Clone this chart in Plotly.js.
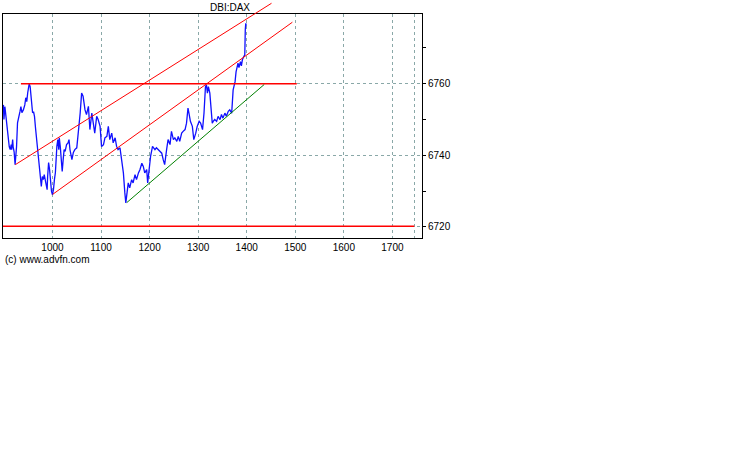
<!DOCTYPE html>
<html>
<head>
<meta charset="utf-8">
<script src="https://cdn.plot.ly/plotly-3.0.1.min.js"></script>
<style>
html,body{margin:0;padding:0;background:#fff;}
#chart{width:738px;height:475px;}
</style>
</head>
<body>
<div id="chart"></div>
<script>
// ---- data ----
const priceX = [899,900,902,904,907,909,911,913,915,916,918,919,921,923,926,928,930,933,935,937,940,943,945,947,949,951,952,954,956,958,959,961,963,965,968,970,972,974,975,977,979,981,983,985,987,989,990,992,994,996,998,1000,1002,1004,1006,
1009,1011,1013,1014,1016,1018,1020,1022,1024,1026,1029,1032,1034,1036,1040,1043,1046,1050,1053,1055,1057,
1060,1063,1067,1070,1074,1077,1081,1084,1087,1091,1094,1098,1101,1105,1108,1112,1115,1118,1122,1125,1129,1132,1135,1139,1142,1146,1149,1151,
1156,1159,1163,1166,1170,1173,1177,1180,1184,1187,1190,1194,1196,1199,1202,1206,1211,1214,1218,1221,1225,1228,1231,1235,1238,1242,1245,1249,1252,1256,1259,1262,1266,1269,1273,1276,1279,1281,1284,1288,1291,1295,1298,1302,1305,1309,1312,1315,1317,1319,1321,1324,1326,1329,1331,1334,1338,1341,1345,1348,1351,1355,1358,1362,1365,1369,1372,1376,1378,1380,1382,1384,1387,1389,1391,1394,1396,1397,1398,1399];
const priceY = [6754.1,6750.0,6753.6,6750.8,6747.2,6745.2,6742.4,6741.6,6743.0,6741.6,6744.4,6742.4,6741.0,6737.4,6742.4,6749.1,6750.8,6752.2,6753.6,6751.9,6752.7,6754.1,6756.1,6755.0,6757.5,6758.9,6760.0,6759.2,6756.4,6754.7,6751.9,6752.2,6750.8,6747.7,6743.5,6741.0,6738.0,6736.8,6734.1,6731.3,6734.1,6733.2,6734.6,6733.2,6731.8,6730.4,6734.1,6738.0,6736.0,6732.4,6729.9,6729.0,6730.4,6733.2,6735.2,
6742.5,6744.4,6741.6,6744.9,6742.5,6739.7,6735.5,6738.8,6741.6,6741.1,6743.0,6743.5,6744.4,6741.6,6738.8,6740.8,6741.6,6742.1,6745.3,6749.0,6751.8,
6757.4,6756.5,6752.7,6751.4,6753.7,6747.2,6751.8,6749.0,6746.2,6750.9,6750.0,6748.1,6742.5,6743.0,6744.9,6745.3,6748.1,6744.4,6746.2,6743.5,6744.9,6742.5,6741.6,6742.1,6738.8,6735.1,6729.5,6726.7,
6732.3,6730.9,6733.2,6732.3,6734.6,6733.2,6735.1,6736.0,6737.8,6736.9,6735.1,6736.0,6732.3,6736.9,6739.7,6742.5,6741.6,6742.1,6741.6,6741.1,6740.6,6738.8,6737.4,6741.6,6744.4,6743.0,6746.7,6744.4,6744.9,6743.9,6745.3,6743.9,6746.2,6746.7,6747.2,6749.0,6753.2,6751.8,6749.5,6748.1,6744.4,6746.2,6748.1,6749.5,6749.0,6747.2,6751.8,6759.2,6759.7,6757.4,6759.2,6757.4,6753.7,6749.0,6749.5,6750.0,6749.5,6750.9,6750.0,6751.4,6750.4,6751.8,6750.9,6752.3,6752.7,6751.8,6758.3,6760.6,6763.3,6765.0,6765.8,6764.5,6766.2,6765.0,6766.7,6767.6,6768.1,6775.1,6776.9,6776.2];

// drawn trend lines
const resistX = [935, 1503];       const resistY = [6760, 6760];
const supportX = [898, 1745];      const supportY = [6720.15, 6720.15];
const chanUpX = [923.5, 1451];     const chanUpY = [6737.4, 6782.5];
const chanMidX = [1000.4, 1494];   const chanMidY = [6729.1, 6777.2];
const chanLowX = [1153, 1436];     const chanLowY = [6726.8, 6759.8];

// axis ticks
const xTickVals = [1000,1100,1200,1300,1400,1500,1600,1700,1745];
const xTickText = ['1000','1100','1200','1300','1400','1500','1600','1700',''];
const yTickVals = [6720,6740,6760];
const yTickText = ['6720','6740','6760'];

const xRange = [898.1, 1760.9];
const yRange = [6716.9, 6779.5];

// ---- layout geometry ----
const W = 738, H = 475;
const frameL = 3, frameR = 422, frameT = 14, frameB = 238;
const plotH = frameB;                 // plot area spans 0..frameB (margin top 0)
const mainTop = (frameB - frameT) / plotH;
const y2Range = [yRange[0], yRange[0] + (yRange[1] - yRange[0]) / mainTop];

const font = {family: 'Liberation Sans, Arial, sans-serif', size: 10, color: '#000'};
const gridCol = '#8aa8a8';

const traces = [
  {x: priceX, y: priceY, xaxis: 'x', yaxis: 'y', mode: 'lines', line: {color: '#1010ff', width: 1.3}, hoverinfo: 'skip'},
  {x: resistX, y: resistY, xaxis: 'x', yaxis: 'y', mode: 'lines', line: {color: '#ff0000', width: 1.6}, hoverinfo: 'skip'},
  {x: supportX, y: supportY, xaxis: 'x', yaxis: 'y', mode: 'lines', line: {color: '#ff0000', width: 1.5}, hoverinfo: 'skip'},
  {x: chanUpX, y: chanUpY, xaxis: 'x2', yaxis: 'y2', mode: 'lines', line: {color: '#ff0000', width: 1}, hoverinfo: 'skip'},
  {x: chanMidX, y: chanMidY, xaxis: 'x2', yaxis: 'y2', mode: 'lines', line: {color: '#ff0000', width: 1}, hoverinfo: 'skip'},
  {x: chanLowX, y: chanLowY, xaxis: 'x2', yaxis: 'y2', mode: 'lines', line: {color: '#008000', width: 1}, hoverinfo: 'skip'}
];

const hidden = {visible: false, showgrid: false, zeroline: false, fixedrange: true};

const layout = {
  width: W, height: H,
  margin: {l: frameL, r: W - frameR, t: 0, b: H - frameB, pad: 0},
  paper_bgcolor: '#fff',
  plot_bgcolor: 'rgba(0,0,0,0)',
  showlegend: false,
  font: font,
  title: {text: 'DBI:DAX', font: {family: font.family, size: 10, color: '#000'},
          x: 230 / W, xref: 'container', xanchor: 'center',
          y: 1 - 7.5 / H, yref: 'container', yanchor: 'middle'},
  xaxis: {
    domain: [0, 1], range: xRange, fixedrange: true,
    tickmode: 'array', tickvals: xTickVals, ticktext: xTickText,
    ticks: '', showline: true, linecolor: '#000', linewidth: 1, mirror: true,
    showgrid: true, gridcolor: gridCol, griddash: 'dot', gridwidth: 1,
    zeroline: false, tickfont: font, anchor: 'y'
  },
  yaxis: {
    domain: [0, mainTop], range: yRange, fixedrange: true, side: 'right',
    tickmode: 'array', tickvals: yTickVals, ticktext: yTickText,
    ticks: 'outside', ticklen: 3, tickcolor: '#000', tickwidth: 1,
    minor: {tickvals: [6730, 6750, 6770], ticks: 'outside', ticklen: 3, tickcolor: '#000', showgrid: false},
    showline: true, linecolor: '#000', linewidth: 1, mirror: true,
    showgrid: true, gridcolor: gridCol, griddash: 'dot', gridwidth: 1,
    zeroline: false, tickfont: font, anchor: 'x'
  },
  xaxis2: Object.assign({domain: [0, 1], range: xRange, anchor: 'y2'}, hidden),
  yaxis2: Object.assign({domain: [0, 1], range: y2Range, anchor: 'x2'}, hidden),
  annotations: [{
    text: '(c) www.advfn.com', xref: 'paper', yref: 'paper',
    x: 0, y: -(259 - frameB) / plotH, xanchor: 'left', yanchor: 'middle',
    xshift: 0, showarrow: false, font: {family: font.family, size: 10, color: '#000'}
  }]
};

Plotly.newPlot('chart', traces, layout, {staticPlot: true, displayModeBar: false});
</script>
</body>
</html>
